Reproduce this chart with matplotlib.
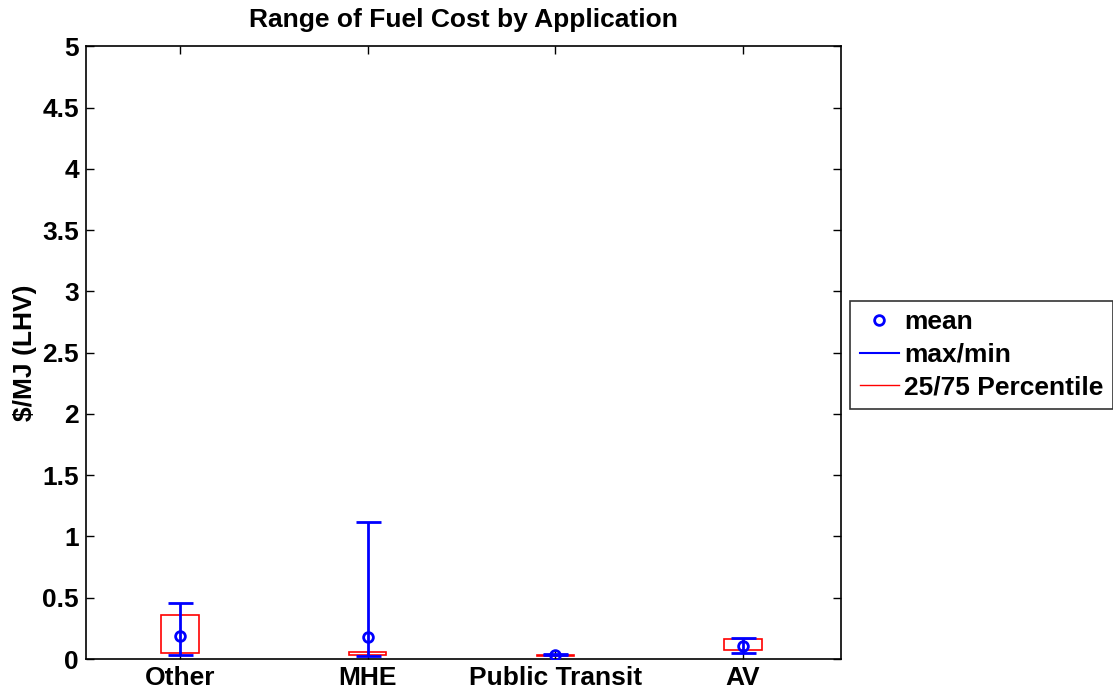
import numpy as np
import matplotlib.pyplot as plt
from matplotlib.patches import Rectangle
from matplotlib.lines import Line2D

plt.rcParams['font.family'] = ['Liberation Sans', 'DejaVu Sans']
plt.rcParams['font.weight'] = 'bold'

apps = ['Other', 'MHE', 'Public Transit', 'AV']
cost_mean = [0.19, 0.18, 0.035, 0.11]
cost_max = [0.46, 1.115, 0.04, 0.17]
cost_min = [0.035, 0.027, 0.03, 0.046]
cost_p25 = [0.05, 0.035, 0.028, 0.07]
cost_p75 = [0.36, 0.06, 0.036, 0.163]

fig = plt.figure(figsize=(11.13, 6.94), dpi=100)
ax = fig.add_axes([0.0773, 0.0504, 0.678, 0.883])

pos = np.arange(1, len(apps) + 1)
box_w = 0.2

# 25/75 percentile boxes
for p, lo, hi in zip(pos, cost_p25, cost_p75):
    ax.add_patch(Rectangle((p - box_w / 2, lo), box_w, hi - lo, fill=False,
                           edgecolor='red', linewidth=1.2, zorder=2))

# max/min bars and means
mean = np.array(cost_mean)
err = [mean - np.array(cost_min), np.array(cost_max) - mean]
ax.errorbar(pos, mean, yerr=err, fmt='none', ecolor='blue', elinewidth=2,
            capsize=9, capthick=2, zorder=3)
ax.plot(pos, mean, 'o', mfc='none', mec='blue', mew=2, ms=7, zorder=4)

ax.set_xlim(0.5, 4.52)
ax.set_ylim(0, 5)
ax.set_xticks(pos)
ax.set_xticklabels(apps)
ax.set_yticks(np.arange(0, 5.01, 0.5))
ax.set_yticklabels(['0', '0.5', '1', '1.5', '2', '2.5', '3', '3.5', '4', '4.5', '5'])
ax.tick_params(direction='in', top=True, right=True, labelsize=19, length=6, width=1, pad=5)
for lab in ax.get_xticklabels() + ax.get_yticklabels():
    lab.set_fontweight('bold')
for s in ax.spines.values():
    s.set_linewidth(1.2)

ax.set_ylabel('$/MJ (LHV)', fontsize=19, fontweight='bold', labelpad=4)
ax.set_title('Range of Fuel Cost by Application', fontsize=19, fontweight='bold', pad=14)

handles = [
    Line2D([], [], ls='none', marker='o', mfc='none', mec='blue', mew=2, ms=7),
    Line2D([], [], color='blue', lw=1.5),
    Line2D([], [], color='red', lw=1),
]
leg = fig.legend(handles, ['mean', 'max/min', '25/75 Percentile'],
                 loc='upper left', bbox_to_anchor=(0.764, 0.566),
                 prop={'size': 19, 'weight': 'bold'}, frameon=True, fancybox=False,
                 handlelength=1.5, handletextpad=0.2, labelspacing=0.32,
                 borderpad=0.35, borderaxespad=0)
leg.get_frame().set_edgecolor('black')
leg.get_frame().set_linewidth(1.2)

fig.savefig('out.png', dpi=100)
